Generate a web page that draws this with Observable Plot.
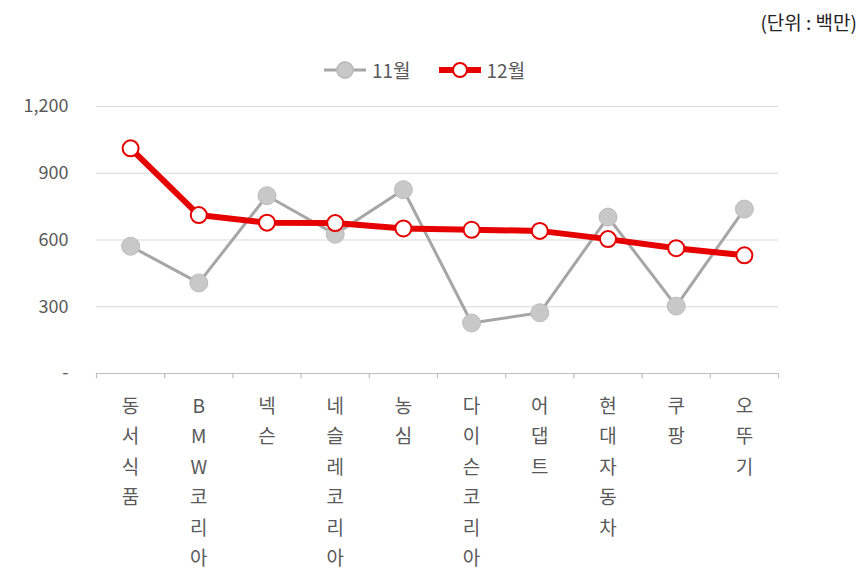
<!DOCTYPE html>
<html>
<head>
<meta charset="utf-8">
<script src="https://cdn.jsdelivr.net/npm/d3@7"></script>
<script src="https://cdn.jsdelivr.net/npm/@observablehq/plot@0.6"></script>
<style>
  html, body { margin: 0; padding: 0; background: #fff; }
  #wrap { position: relative; width: 861px; height: 577px; font-family: "Noto Sans CJK KR", "Noto Sans", sans-serif; }
  #unit { position: absolute; right: 4px; top: 8px; font-size: 19px; color: #222; }
  #legend { position: absolute; left: 322px; top: 56px; display: flex; align-items: center; font-size: 19px; color: #595959; }
  #legend .item { display: flex; align-items: center; margin-right: 26px; }
  #legend svg { margin-right: 4px; }
  #chart { position: absolute; left: 0; top: 0; }
</style>
</head>
<body>
<div id="wrap">
  <div id="chart"></div>
  <div id="unit">(단위 : 백만)</div>
  <div id="legend"></div>
</div>
<script>
const categories = ["동서식품", "BMW코리아", "넥슨", "네슬레코리아", "농심", "다이슨코리아", "어댑트", "현대자동차", "쿠팡", "오뚜기"];
const nov = [572, 407, 799, 626, 826, 227, 273, 703, 303, 739];
const dec = [1012, 712, 678, 676, 652, 646, 641, 604, 563, 531];
const yTicks = [0, 300, 600, 900, 1200];
const seriesNames = ["11월", "12월"];

const idx = d3.range(categories.length);
const boundaries = d3.range(categories.length + 1).map(i => i - 0.5);
const gray = "#a6a6a6", red = "#e60000", txt = "#595959";

const chart = Plot.plot({
  width: 861,
  height: 577,
  marginLeft: 96,
  marginRight: 83,
  marginTop: 106,
  marginBottom: 204,
  style: { fontFamily: "'Noto Sans CJK KR', 'Noto Sans', sans-serif", background: "transparent" },
  x: { type: "linear", domain: [-0.5, categories.length - 0.5] },
  y: { domain: [0, 1200] },
  marks: [
    Plot.ruleY(yTicks.filter(d => d > 0), { stroke: "#d9d9d9", strokeWidth: 1 }),
    Plot.ruleY([0], { stroke: "#bfbfbf", strokeWidth: 1.2 }),
    Plot.ruleX(boundaries, { y1: 0, y2: -24, stroke: "#bfbfbf", strokeWidth: 1.2 }),
    Plot.axisY(yTicks, {
      tickSize: 0, tickPadding: 28, fontSize: 18, fill: txt,
      tickFormat: d => d === 0 ? "-" : d3.format(",")(d), label: null
    }),
    Plot.axisX(idx, {
      tickSize: 0, tickPadding: 18, fontSize: 19, fill: txt, lineHeight: 1.6,
      tickFormat: i => [...categories[i]].join("\n"), label: null
    }),
    Plot.line(idx, { x: i => i, y: i => nov[i], stroke: gray, strokeWidth: 3 }),
    Plot.dot(idx, { x: i => i, y: i => nov[i], r: 9, fill: "#c8c8c8", stroke: "#bdbdbd", strokeWidth: 1 }),
    Plot.line(idx, { x: i => i, y: i => dec[i], stroke: red, strokeWidth: 6 }),
    Plot.dot(idx, { x: i => i, y: i => dec[i], r: 8, fill: "#fff", stroke: red, strokeWidth: 2 })
  ]
});
document.getElementById("chart").appendChild(chart);

// legend
const legend = d3.select("#legend");
const styles = [
  { stroke: gray, sw: 3, fill: "#c8c8c8", cs: "#bdbdbd", r: 8 },
  { stroke: red, sw: 6, fill: "#fff", cs: red, r: 7 }
];
seriesNames.forEach((name, k) => {
  const s = styles[k];
  const item = legend.append("div").attr("class", "item");
  const svg = item.append("svg").attr("width", 46).attr("height", 22);
  svg.append("line").attr("x1", 2).attr("x2", 44).attr("y1", 11).attr("y2", 11)
    .attr("stroke", s.stroke).attr("stroke-width", s.sw);
  svg.append("circle").attr("cx", 23).attr("cy", 11).attr("r", s.r)
    .attr("fill", s.fill).attr("stroke", s.cs).attr("stroke-width", 2);
  item.append("span").text(name);
});
</script>
</body>
</html>
